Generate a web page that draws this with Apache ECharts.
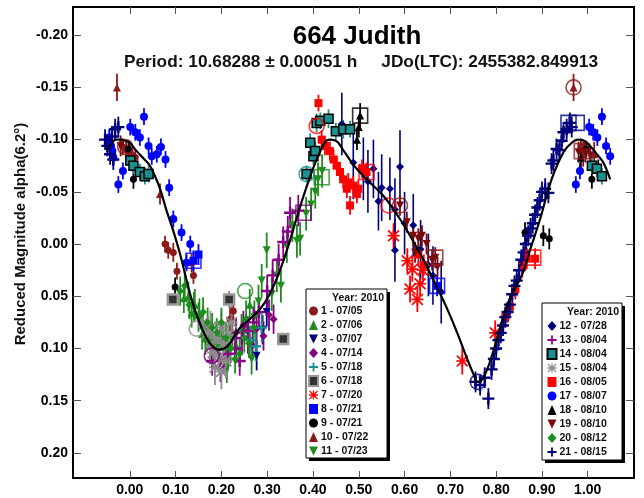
<!DOCTYPE html>
<html><head><meta charset="utf-8">
<script src="https://cdn.jsdelivr.net/npm/echarts@6/dist/echarts.min.js"></script>
<style>html,body{margin:0;padding:0;background:#fff}#c{width:644px;height:498px}</style>
</head><body><div id="c"></div>
<script>
// ---------- DATA ----------
const xTicks = [0.0,0.1,0.2,0.3,0.4,0.5,0.6,0.7,0.8,0.9,1.0];
const yTicks = [-0.20,-0.15,-0.10,-0.05,0.00,0.05,0.10,0.15,0.20];

const sessionNames = ['1 - 07/05','2 - 07/06','3 - 07/07','4 - 07/14','5 - 07/18','6 - 07/18','7 - 07/20','8 - 07/21','9 - 07/21','10 - 07/22','11 - 07/23',
  '12 - 07/28','13 - 08/04','14 - 08/04','15 - 08/04','16 - 08/05','17 - 08/07','18 - 08/10','19 - 08/10','20 - 08/12','21 - 08/15'];

// [phase, reduced magnitude, error]
const s01 = [[-0.015,-0.093,0.008],[-0.008,-0.090,0.008],[0.000,-0.088,0.008],[0.006,-0.085,0.009],[0.012,-0.083,0.008],[0.077,0.000,0.008],[0.084,0.006,0.008],[0.095,0.008,0.009],[0.103,0.026,0.008],[0.135,0.018,0.009],[0.139,0.030,0.008],[0.219,0.072,0.012],[0.226,0.064,0.012],[0.985,-0.093,0.008],[0.992,-0.090,0.008]];
const s02 = [[0.118,0.052,0.014],[0.128,0.050,0.014],[0.135,0.066,0.014],[0.142,0.058,0.015],[0.152,0.066,0.014],[0.158,0.086,0.015],[0.160,0.078,0.014],[0.168,0.088,0.015],[0.176,0.094,0.016],[0.186,0.102,0.015],[0.196,0.098,0.016],[0.204,0.090,0.015],[0.214,0.106,0.016],[0.224,0.086,0.015],[0.233,0.098,0.016],[0.244,0.082,0.015],[0.254,0.070,0.016],[0.262,0.058,0.015]];
const s03 = [[0.277,0.107,0.014],[0.299,0.065,0.014],[0.290,0.082,0.014]];
const s04 = [[0.205,0.110,0.014],[0.232,0.085,0.014],[0.248,0.078,0.014],[0.258,0.090,0.015],[0.268,0.097,0.014],[0.277,0.081,0.015],[0.292,0.088,0.014],[0.304,0.068,0.015],[0.314,0.072,0.014]];
const s05 = [[0.262,0.092,0.014],[0.275,0.098,0.014],[0.288,0.080,0.014]];
const s06 = [[0.094,0.053,0.006],[0.217,0.053,0.008],[0.335,0.091,0.006]];
const s07 = [[0.576,-0.008,0.012],[0.606,0.016,0.012],[0.617,0.024,0.012],[0.612,0.043,0.013],[0.634,0.038,0.012],[0.628,0.053,0.012],[0.640,0.025,0.012],[0.726,0.112,0.013],[0.798,0.085,0.012]];
const s08 = [[0.139,0.016,0.010],[0.150,0.010,0.010],[0.671,0.040,0.010]];
const s09 = [[-0.003,-0.091,0.008],[0.008,-0.062,0.009],[0.099,0.041,0.009],[0.863,-0.011,0.010],[0.903,-0.008,0.010],[0.916,-0.005,0.010],[0.997,-0.091,0.008],[1.009,-0.062,0.009],[1.023,-0.072,0.009]];
const s10 = [[-0.028,-0.150,0.013],[0.066,-0.048,0.010],[0.969,-0.150,0.013],[0.990,-0.086,0.012],[1.014,-0.086,0.012]];
const s11 = [[0.195,0.100,0.015],[0.212,0.118,0.015],[0.266,0.110,0.015],[0.272,0.070,0.016],[0.281,0.055,0.016],[0.288,0.035,0.016],[0.299,0.006,0.017],[0.310,0.048,0.016],[0.321,0.030,0.016],[0.330,0.040,0.016],[0.343,0.002,0.016],[0.355,-0.018,0.016],[0.365,-0.003,0.016],[0.372,-0.005,0.016],[0.385,-0.029,0.016],[0.396,-0.038,0.016],[0.405,-0.050,0.016],[0.411,-0.062,0.016],[0.420,-0.070,0.016]];
const s12 = [[0.463,-0.115,0.030],[0.488,-0.078,0.035],[0.510,-0.072,0.030],[0.520,-0.060,0.030],[0.532,-0.072,0.028],[0.543,-0.041,0.028],[0.550,-0.054,0.032],[0.568,-0.053,0.030],[0.579,-0.033,0.030],[0.579,0.006,0.030],[0.590,-0.074,0.035],[0.600,-0.020,0.030],[0.619,-0.018,0.030],[0.635,0.005,0.028],[0.652,0.020,0.030],[0.662,0.030,0.028],[0.680,0.046,0.030]];
const s13 = [[0.180,0.112,0.014],[0.198,0.118,0.014],[0.215,0.105,0.014],[0.230,0.100,0.014],[0.240,0.112,0.014],[0.245,0.090,0.015],[0.258,0.083,0.014],[0.270,0.075,0.015],[0.282,0.065,0.014],[0.300,0.045,0.015],[0.312,0.030,0.015],[0.325,0.015,0.015],[0.335,-0.002,0.015],[0.345,-0.012,0.015],[0.350,-0.030,0.015],[0.368,-0.032,0.015]];
const s14 = [[0.001,-0.080,0.008],[0.008,-0.075,0.008],[0.022,-0.069,0.008],[0.033,-0.065,0.008],[0.041,-0.067,0.008],[0.386,-0.067,0.008],[0.394,-0.097,0.009],[0.401,-0.084,0.008],[0.405,-0.089,0.009],[0.408,-0.116,0.009],[0.416,-0.118,0.008],[0.434,-0.120,0.009],[0.450,-0.108,0.008],[0.466,-0.110,0.009],[0.481,-0.110,0.008],[1.009,-0.075,0.008],[1.020,-0.072,0.008],[1.031,-0.065,0.008]];
const s15 = [[0.160,0.075,0.016],[0.170,0.085,0.016],[0.175,0.098,0.017],[0.176,0.080,0.016],[0.182,0.104,0.016],[0.186,0.118,0.017],[0.188,0.090,0.016],[0.195,0.108,0.017],[0.200,0.080,0.016],[0.200,0.122,0.017],[0.205,0.095,0.017],[0.210,0.112,0.017],[0.215,0.087,0.016],[0.222,0.075,0.016]];
const s16 = [[0.412,-0.135,0.008],[0.419,-0.100,0.009],[0.426,-0.094,0.009],[0.437,-0.089,0.009],[0.445,-0.081,0.009],[0.452,-0.075,0.009],[0.459,-0.069,0.009],[0.466,-0.062,0.009],[0.474,-0.053,0.009],[0.477,-0.059,0.009],[0.481,-0.037,0.009],[0.488,-0.056,0.009],[0.496,-0.048,0.009],[0.499,-0.053,0.009],[0.507,-0.072,0.009],[0.517,-0.069,0.009],[0.630,0.010,0.010],[0.642,0.020,0.010],[0.820,0.070,0.010],[0.830,0.060,0.010],[0.842,0.043,0.010],[0.857,0.022,0.010],[0.867,0.014,0.010],[0.885,0.014,0.010]];
const s17 = [[-0.045,-0.102,0.008],[-0.041,-0.094,0.008],[-0.038,-0.089,0.008],[-0.036,-0.083,0.008],[-0.025,-0.057,0.008],[-0.015,-0.070,0.008],[0.001,-0.112,0.008],[0.012,-0.107,0.008],[0.022,-0.102,0.008],[0.031,-0.122,0.008],[0.041,-0.094,0.008],[0.048,-0.084,0.008],[0.059,-0.086,0.008],[0.068,-0.093,0.008],[0.078,-0.081,0.008],[0.086,-0.054,0.008],[0.095,-0.024,0.008],[0.113,-0.011,0.008],[0.124,0.018,0.008],[0.132,0.000,0.008],[0.974,-0.057,0.008],[0.983,-0.070,0.008],[1.003,-0.112,0.008],[1.012,-0.107,0.008],[1.021,-0.102,0.008],[1.031,-0.122,0.008],[1.040,-0.094,0.008],[1.049,-0.084,0.008]];
const s18 = [[0.496,-0.100,0.010],[0.500,-0.112,0.010],[0.503,-0.123,0.012],[0.985,-0.083,0.010]];
const s19 = [[-0.020,-0.094,0.010],[0.590,-0.037,0.010],[0.605,-0.021,0.010],[0.619,-0.008,0.010],[0.623,0.008,0.010],[0.630,-0.005,0.010],[0.638,-0.008,0.010],[0.648,0.000,0.010],[0.660,0.015,0.010],[0.667,0.013,0.010],[0.672,0.022,0.010],[0.980,-0.088,0.010],[0.995,-0.088,0.010],[1.005,-0.085,0.010]];
const s20 = [[0.110,0.045,0.014],[0.120,0.040,0.014],[0.130,0.058,0.014],[0.140,0.060,0.014],[0.150,0.070,0.014],[0.160,0.065,0.014],[0.165,0.092,0.014],[0.170,0.075,0.014],[0.180,0.080,0.014],[0.190,0.085,0.014],[0.200,0.075,0.014],[0.210,0.090,0.014],[0.220,0.100,0.014],[0.230,0.110,0.014],[0.240,0.105,0.014],[0.250,0.090,0.014],[0.260,0.095,0.014],[0.270,0.080,0.014]];
const s21 = [[-0.054,-0.100,0.010],[-0.049,-0.094,0.010],[-0.043,-0.086,0.010],[-0.039,-0.103,0.010],[-0.036,-0.081,0.010],[-0.032,-0.110,0.010],[-0.025,-0.112,0.010],
  [0.755,0.132,0.010],[0.765,0.135,0.010],[0.775,0.128,0.010],[0.783,0.148,0.010],[0.790,0.120,0.010],[0.795,0.110,0.010],[0.800,0.100,0.010],[0.805,0.092,0.010],[0.810,0.085,0.010],[0.815,0.078,0.010],[0.820,0.070,0.010],[0.825,0.065,0.010],[0.830,0.058,0.010],[0.835,0.048,0.010],[0.840,0.040,0.010],[0.845,0.035,0.010],[0.850,0.025,0.010],[0.855,0.015,0.010],[0.860,0.008,0.010],[0.865,0.000,0.010],[0.870,-0.008,0.010],[0.875,-0.015,0.010],[0.880,-0.020,0.010],[0.885,-0.028,0.010],[0.890,-0.035,0.010],[0.895,-0.042,0.010],[0.900,-0.050,0.010],[0.907,-0.053,0.010],[0.914,-0.049,0.010],[0.921,-0.077,0.010],[0.925,-0.080,0.010],[0.932,-0.091,0.010],[0.938,-0.090,0.010],[0.943,-0.099,0.010],[0.947,-0.107,0.010],[0.954,-0.110,0.010],[0.961,-0.116,0.010],[0.965,-0.112,0.010]];

// Fourier fit curve
const fitPhase = [-0.050,-0.040,-0.030,-0.020,-0.010,0.000,0.015,0.030,0.044,0.055,0.066,0.081,0.094,0.110,0.135,0.155,0.175,0.195,0.215,0.239,0.262,0.285,0.303,0.321,0.340,0.357,0.375,0.395,0.415,0.435,0.450,0.466,0.490,0.517,0.554,0.590,0.612,0.635,0.655,0.675,0.695,0.715,0.735,0.750,0.760,0.772,0.790,0.808,0.830,0.856,0.876,0.896,0.921,0.947,0.965,0.979,0.992,1.005,1.020,1.034,1.049];
const fitMag   = [-0.090,-0.096,-0.100,-0.100,-0.099,-0.097,-0.089,-0.082,-0.075,-0.065,-0.053,-0.031,-0.014,0.010,0.053,0.078,0.095,0.101,0.097,0.081,0.072,0.062,0.050,0.033,0.010,-0.014,-0.040,-0.066,-0.088,-0.100,-0.099,-0.090,-0.075,-0.062,-0.046,-0.024,-0.008,0.010,0.027,0.045,0.064,0.085,0.108,0.124,0.132,0.128,0.108,0.081,0.052,0.030,0.003,-0.024,-0.062,-0.088,-0.097,-0.100,-0.099,-0.094,-0.086,-0.078,-0.062];

// first-point highlight rings
const ringCircles = [[0.969,-0.150],[-0.010,-0.093],[0.408,-0.113],[0.565,-0.037],[0.590,-0.037],[0.252,0.045],[0.179,0.107],[0.146,0.081],[0.760,0.132],[0.386,-0.067]];
const ringSquares = [[0.958,-0.116],[0.976,-0.116],[0.503,-0.123],[0.987,-0.089],[0.667,0.013],[0.881,0.013],[0.517,-0.069],[0.139,0.016],[0.671,0.040],[0.419,-0.064],[0.379,-0.030]];

// ---------- STYLE ----------
const PLUS = 'path://M4,0H6V4H10V6H6V10H4V6H0V4H4Z';
const AST = 'path://M4.3,0H5.7V10H4.3Z M0,4.3H10V5.7H0Z M0,1L1,0L10,9L9,10Z M9,0L10,1L1,10L0,9Z';
const INVTRI = 'path://M0,0L10,0L5,10Z';
const MAROON='#8B1A1A', GREEN='#1E8C1E', NAVY='#00007F', PURPLE='#800080', TEAL='#1A9090', GRAY='#8C8C8C', RED='#FF0000', BLUE='#0000FF';
const sessionData = [s01,s02,s03,s04,s05,s06,s07,s08,s09,s10,s11,s12,s13,s14,s15,s16,s17,s18,s19,s20,s21];
const sessionStyle = [
  {c:MAROON, sym:'circle', sz:7},
  {c:GREEN, sym:'triangle', sz:8},
  {c:NAVY, sym:INVTRI, sz:8},
  {c:PURPLE, sym:'diamond', sz:8},
  {c:TEAL, sym:PLUS, sz:11},
  {c:'#333333', sym:'rect', sz:10, bc:'#999999', bw:2.5, ec:GRAY},
  {c:RED, sym:AST, sz:12},
  {c:BLUE, sym:'rect', sz:8},
  {c:'#000000', sym:'circle', sz:7},
  {c:MAROON, sym:'triangle', sz:8},
  {c:GREEN, sym:INVTRI, sz:8},
  {c:NAVY, sym:'diamond', sz:8},
  {c:'#8B008B', sym:PLUS, sz:12},
  {c:TEAL, sym:'rect', sz:9, bc:'#000000', bw:1.5},
  {c:GRAY, sym:AST, sz:12},
  {c:RED, sym:'rect', sz:8},
  {c:BLUE, sym:'circle', sz:8},
  {c:'#000000', sym:'triangle', sz:8},
  {c:'#7A0A0A', sym:INVTRI, sz:8},
  {c:GREEN, sym:'diamond', sz:8},
  {c:NAVY, sym:PLUS, sz:12}
];
const ringCircleColors = [MAROON,MAROON,RED,RED,MAROON,GREEN,PURPLE,GRAY,NAVY,TEAL];
const ringSquareColors = [NAVY,NAVY,'#000',MAROON,MAROON,RED,RED,BLUE,BLUE,GREEN,PURPLE];

const FONT = '"Liberation Sans", Arial, sans-serif';

function errSeries(data, color, w){
  return {type:'custom', data:data, silent:true, animation:false, encode:{x:0,y:1},
    renderItem:function(params, api){
      const x=api.value(0), y=api.value(1), e=api.value(2);
      const p1=api.coord([x,y-e]), p2=api.coord([x,y+e]);
      return {type:'line', shape:{x1:p1[0],y1:p1[1],x2:p2[0],y2:p2[1]}, style:{stroke:color, lineWidth:w}};
    }};
}

const series = [];
sessionData.forEach(function(d,i){
  const st = sessionStyle[i];
  series.push(errSeries(d, st.ec || st.c, i===11 ? 1.6 : 1.8));
  series.push({type:'scatter', name:sessionNames[i], data:d, symbol:st.sym, symbolSize:st.sz,
    itemStyle:{color:st.c, borderColor:st.bc || st.c, borderWidth:st.bw || 0, opacity:1}, animation:false, silent:true});
});
series.push({type:'scatter', data:ringCircles.map(function(p,i){return {value:p, itemStyle:{borderColor:ringCircleColors[i]}};}),
  symbol:'circle', symbolSize:15, itemStyle:{color:'rgba(0,0,0,0)', borderWidth:1.6}, animation:false, silent:true});
series.push({type:'scatter', data:ringSquares.map(function(p,i){return {value:p, itemStyle:{borderColor:ringSquareColors[i]}};}),
  symbol:'rect', symbolSize:15, itemStyle:{color:'rgba(0,0,0,0)', borderWidth:1.6}, animation:false, silent:true});
series.push({type:'line', data:fitPhase.map(function(x,i){return [x,fitMag[i]];}), smooth:0.4, showSymbol:false,
  lineStyle:{color:'#000', width:2.2}, animation:false, silent:true, z:3});

const axisLine = {show:true, onZero:false, lineStyle:{color:'#000', width:2}};
const XMIN=-0.124, XMAX=1.101, YMIN=-0.227, YMAX=0.224;
const fmt = function(v){ return (Math.abs(v)<1e-9?0:v).toFixed(2); };

function legendCfg(names, left, top){
  return {data:names, orient:'vertical', left:left, top:top, padding:0, itemGap:2, itemWidth:9, itemHeight:10,
    selectedMode:false, textStyle:{fontFamily:FONT, fontWeight:'bold', fontSize:10.5, color:'#111', lineHeight:12, padding:[0,0,0,-2]}};
}

const option = {
  backgroundColor:'#fff',
  animation:false,
  grid:{left:73, right:10, top:7, bottom:20, containLabel:false},
  xAxis:[
    {type:'value', min:XMIN, max:XMAX, position:'bottom', axisLine:axisLine,
     axisTick:{show:true, inside:true, length:7, customValues:xTicks, lineStyle:{color:'#555', width:1}},
     axisLabel:{customValues:xTicks, formatter:fmt, margin:5, fontFamily:FONT, fontWeight:'bold', fontSize:14, color:'#000'},
     splitLine:{show:false}},
    {type:'value', min:XMIN, max:XMAX, position:'top', axisLine:axisLine,
     axisTick:{show:true, inside:true, length:7, customValues:xTicks, lineStyle:{color:'#555', width:1}},
     axisLabel:{show:false}, splitLine:{show:false}}
  ],
  yAxis:[
    {type:'value', min:YMIN, max:YMAX, inverse:true, position:'left', axisLine:axisLine,
     axisTick:{show:true, inside:true, length:8, customValues:yTicks, lineStyle:{color:'#555', width:1}},
     axisLabel:{customValues:yTicks, formatter:fmt, margin:5, fontFamily:FONT, fontWeight:'bold', fontSize:14, color:'#000'},
     splitLine:{show:false}},
    {type:'value', min:YMIN, max:YMAX, inverse:true, position:'right', axisLine:axisLine,
     axisTick:{show:true, inside:true, length:8, customValues:yTicks, lineStyle:{color:'#555', width:1}},
     axisLabel:{show:false}, splitLine:{show:false}}
  ],
  legend:[legendCfg(sessionNames.slice(0,11), 308, 305), legendCfg(sessionNames.slice(11), 546.5, 320)],
  graphic:[
    {type:'text', x:357, y:37, style:{text:'664 Judith', font:'bold 26px '+FONT, fill:'#000', align:'center', verticalAlign:'middle'}},
    {type:'text', x:361, y:62, style:{text:'Period: 10.68288 \u00b1 0.00051 h     JDo(LTC): 2455382.849913', font:'bold 17.3px '+FONT, fill:'#111', align:'center', verticalAlign:'middle'}},
    {type:'text', x:21, y:234, rotation:Math.PI/2, style:{text:'Reduced Magnitude alpha(6.2\u00b0)', font:'bold 15px '+FONT, fill:'#111', align:'center', verticalAlign:'middle'}},
    {type:'rect', shape:{x:309, y:292, width:81, height:169}, style:{fill:'#000'}, z:10},
    {type:'rect', shape:{x:306, y:289, width:81, height:169}, style:{fill:'#fff', stroke:'#000', lineWidth:1}, z:10},
    {type:'text', x:384, y:298, style:{text:'Year: 2010', font:'bold 10.5px '+FONT, fill:'#111', align:'right', verticalAlign:'middle'}, z:11},
    {type:'rect', shape:{x:545, y:306, width:80, height:157}, style:{fill:'#000'}, z:10},
    {type:'rect', shape:{x:542, y:303, width:80, height:157}, style:{fill:'#fff', stroke:'#000', lineWidth:1}, z:10},
    {type:'text', x:619, y:312, style:{text:'Year: 2010', font:'bold 10.5px '+FONT, fill:'#111', align:'right', verticalAlign:'middle'}, z:11}
  ],
  series:series
};
option.legend.forEach(function(l){ l.z = 12; });
const chart = echarts.init(document.getElementById('c'), null, {renderer:'canvas'});
chart.setOption(option);
</script>
</body></html>
